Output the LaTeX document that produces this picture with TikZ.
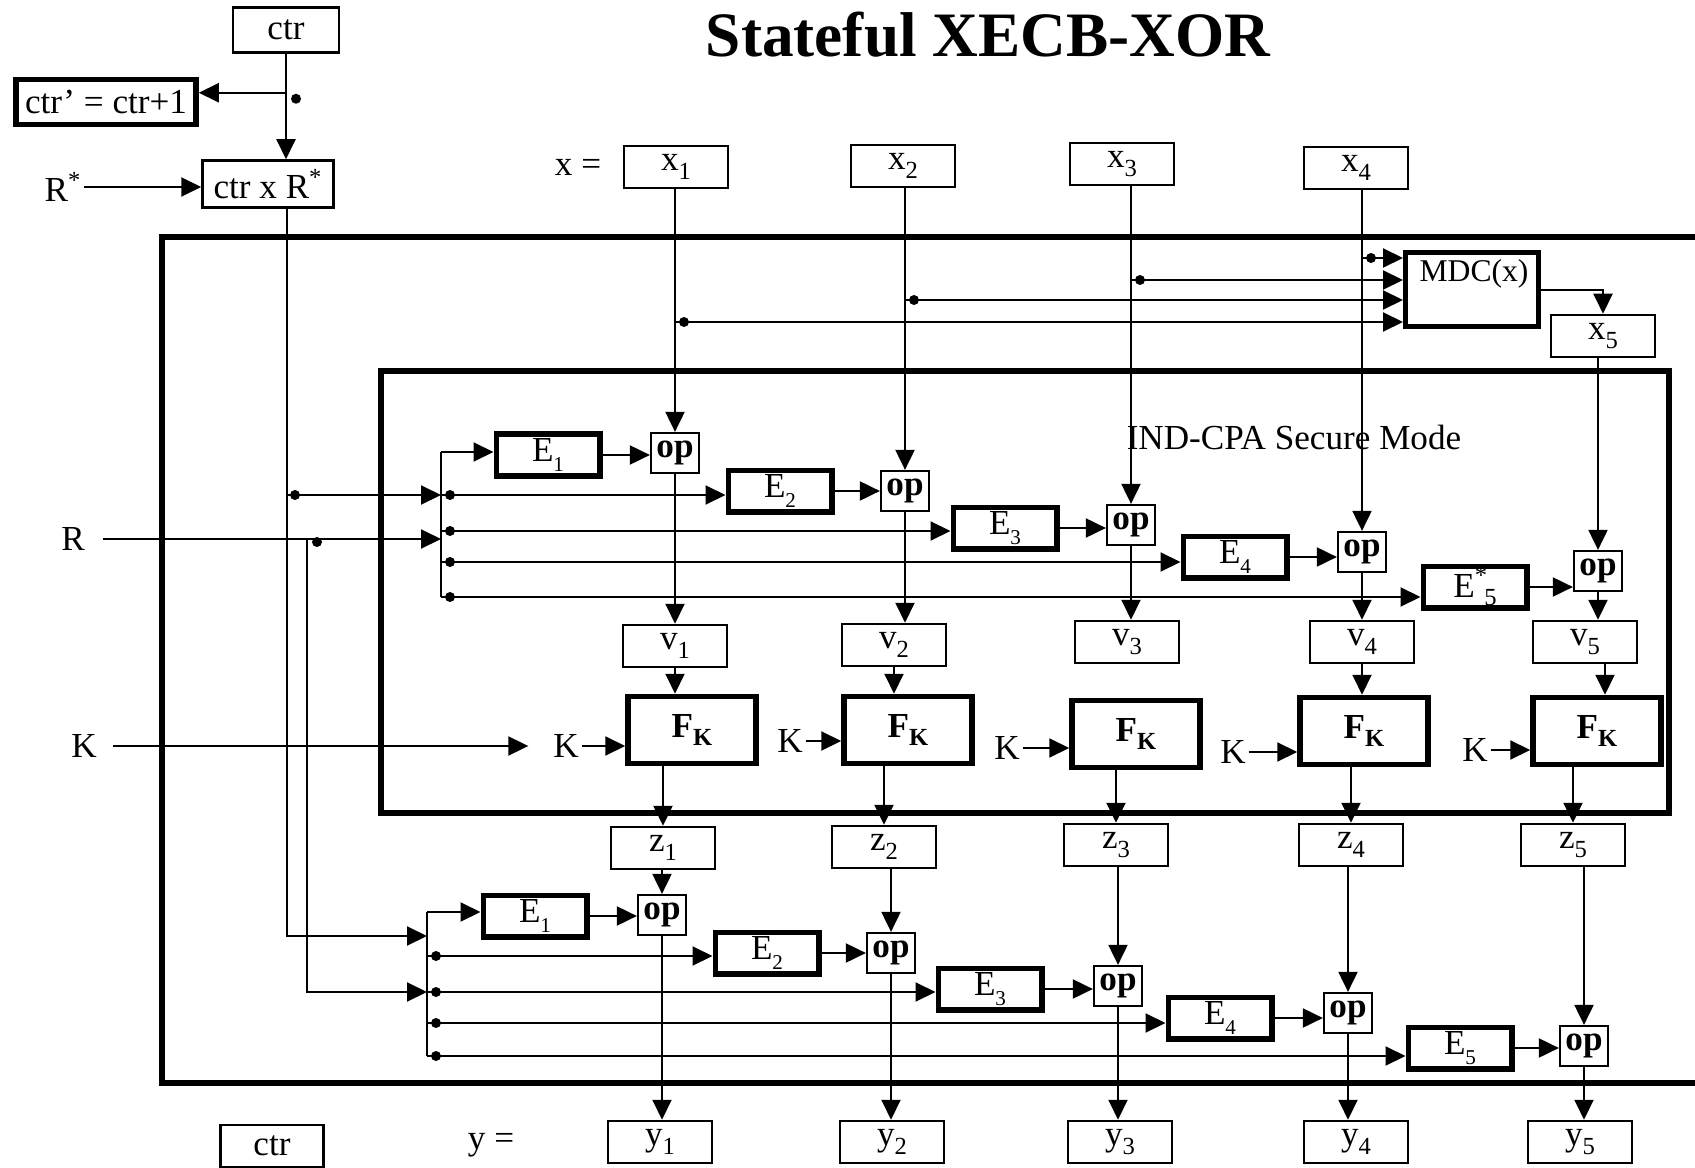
\documentclass[tikz,border=0pt]{standalone}
\usepackage{fontspec}
\setmainfont{Liberation Serif}
\usetikzlibrary{arrows.meta}
\newcommand{\lsub}[1]{\raisebox{-5pt}{\fontsize{14}{14}\selectfont #1}}
\newcommand{\esub}[1]{\raisebox{-6pt}{\fontsize{12}{12}\selectfont #1}}

\begin{document}
\begin{tikzpicture}[
    x=0.2mm, y=-0.2mm,
    every node/.style={font=\fontsize{20}{24}\selectfont},
    lbl/.style={inner sep=1.5pt},
    box/.style={draw, line width=0.5mm, minimum width=20.8mm, minimum height=8.4mm, inner sep=0pt},
    ebox/.style={draw, line width=1.1mm, minimum width=20.7mm, minimum height=8.3mm, inner sep=0pt},
    opbox/.style={draw, line width=0.45mm, minimum width=9.6mm, minimum height=8mm, inner sep=0pt, font=\fontsize{20}{24}\selectfont\bfseries},
    fkbox/.style={draw, line width=1.1mm, minimum width=25.6mm, minimum height=13.4mm, inner sep=0pt, font=\fontsize{20}{24}\selectfont\bfseries},
    thickframe/.style={line width=1.2mm},
    ln/.style={line width=0.4mm},
    arr/.style={-{Triangle[length=4mm, width=3.8mm]}, line width=0.4mm},
]
\useasboundingbox (0,0) rectangle (1695,1168);

% ── Frames ──
\draw[thickframe] (1695,237) -| (162,1083) -- (1695,1083);
\draw[thickframe] (381,371) rectangle (1669,813);

% ── Counter ──
\node[box, minimum width=21.2mm, minimum height=9mm] (ctr) at (286, 30) {ctr};
\node[ebox, minimum width=36mm, minimum height=9mm] (ctrp) at (106, 102) {ctr' = ctr+1};
\node[box, minimum width=26.2mm, minimum height=9.4mm] (ctrR) at (268, 184) {ctr x R\textsuperscript{*}};
\node[lbl] (Rs) at (63, 187) {R\textsuperscript{*}};
\node[font=\fontsize{36}{40}\selectfont\bfseries] (title) at (988, 35) {Stateful XECB-XOR};

\draw[arr] (ctr.south) -- (ctr.south |- ctrR.north);
\path (ctr.south) ++(0, 39) coordinate (cb);
\draw[arr] (cb) -- (cb -| ctrp.east);
\fill (cb) ++(10, 6) circle (1mm);
\draw[arr] (Rs.east) -- (Rs.east -| ctrR.west);

% ── Plaintext blocks ──
\node[lbl] (xeq) at (578, 167) {x =};
\node[box] (x1) at (676, 167) {x\lsub{1}};
\node[box] (x2) at (903, 166) {x\lsub{2}};
\node[box] (x3) at (1122, 164) {x\lsub{3}};
\node[box] (x4) at (1356, 168) {x\lsub{4}};
\node[draw, line width=1mm, minimum width=26.6mm, minimum height=14.8mm] (MDC) at (1472, 290) {};
\node[lbl, font=\fontsize{18}{20}\selectfont] (mdct) at (1474, 274) {MDC(x)};
\node[box] (x5) at (1603, 336) {x\lsub{5}};
\draw[arr] (MDC.east) -| (x5.north);

% ── IND-CPA mode, upper chain ──
\node[lbl] (ind) at (1294, 437) {IND-CPA Secure Mode};
\node[ebox] (E1) at (548, 455) {E\esub{1}};
\node[opbox] (op1) at (675, 453) {op};
\node[ebox] (E2) at (780, 491) {E\esub{2}};
\node[opbox] (op2) at (905, 491) {op};
\node[ebox] (E3) at (1005, 528) {E\esub{3}};
\node[opbox] (op3) at (1131, 525) {op};
\node[ebox] (E4) at (1235, 557) {E\esub{4}};
\node[opbox] (op4) at (1362, 552) {op};
\node[ebox] (E5) at (1475, 587) {E\textsuperscript{*}\kern-0.1em\lsub{5}};
\node[opbox] (op5) at (1598, 571) {op};

\node[box] (v1) at (675, 646) {v\lsub{1}};
\node[box] (v2) at (894, 645) {v\lsub{2}};
\node[box] (v3) at (1127, 642) {v\lsub{3}};
\node[box] (v4) at (1362, 642) {v\lsub{4}};
\node[box] (v5) at (1585, 642) {v\lsub{5}};

\draw[arr] (x1.south -| op1) -- (op1.north);
\draw[arr] (x2.south -| op2) -- (op2.north);
\draw[arr] (x3.south -| op3) -- (op3.north);
\draw[arr] (x4.south -| op4) -- (op4.north);
\draw[arr] (x5.south -| op5) -- (op5.north);

\coordinate (m1) at (675, 322);
\coordinate (m2) at (905, 300);
\coordinate (m3) at (1131, 280);
\coordinate (m4) at (1362, 258);
\draw[arr] (m1) -- (m1 -| MDC.west);
\draw[arr] (m2) -- (m2 -| MDC.west);
\draw[arr] (m3) -- (m3 -| MDC.west);
\draw[arr] (m4) -- (m4 -| MDC.west);
\fill (m1) ++(9, 0) circle (1mm);
\fill (m2) ++(9, 0) circle (1mm);
\fill (m3) ++(9, 0) circle (1mm);
\fill (m4) ++(9, 0) circle (1mm);

\draw[arr] (E1.east) -- (E1.east -| op1.west);
\draw[arr] (E2.east) -- (E2.east -| op2.west);
\draw[arr] (E3.east) -- (E3.east -| op3.west);
\draw[arr] (E4.east) -- (E4.east -| op4.west);
\draw[arr] (E5.east) -- (E5.east -| op5.west);

\draw[arr] (op1.south) -- (op1.south |- v1.north);
\draw[arr] (op2.south) -- (op2.south |- v2.north);
\draw[arr] (op3.south) -- (op3.south |- v3.north);
\draw[arr] (op4.south) -- (op4.south |- v4.north);
\draw[arr] (op5.south) -- (op5.south |- v5.north);

% ── Upper bus ──
\coordinate (ub1) at (441, 452);
\coordinate (ub2) at (441, 495);
\coordinate (ubr) at (441, 539);
\coordinate (ub3) at (441, 531);
\coordinate (ub4) at (441, 562);
\coordinate (ub5) at (441, 597);
\draw[ln] (ub1) -- (ub5);
\draw[arr] (ub1) -- (ub1 -| E1.west);
\draw[arr] (ub2) -- (ub2 -| E2.west);
\draw[arr] (ub3) -- (ub3 -| E3.west);
\draw[arr] (ub4) -- (ub4 -| E4.west);
\draw[arr] (ub5) -- (ub5 -| E5.west);
\fill (ub2) ++(9, 0) circle (1mm);
\fill (ub3) ++(9, 0) circle (1mm);
\fill (ub4) ++(9, 0) circle (1mm);
\fill (ub5) ++(9, 0) circle (1mm);

% ── Keyed F ──
\node[lbl] (K) at (84, 746) {K};
\node[lbl] (k1) at (566, 746) {K};
\node[lbl] (k2) at (790, 741) {K};
\node[lbl] (k3) at (1007, 748) {K};
\node[lbl] (k4) at (1233, 752) {K};
\node[lbl] (k5) at (1475, 750) {K};
\node[fkbox] (F1) at (692, 730) {F\lsub{K}};
\node[fkbox] (F2) at (908, 730) {F\lsub{K}};
\node[fkbox] (F3) at (1136, 734) {F\lsub{K}};
\node[fkbox] (F4) at (1364, 731) {F\lsub{K}};
\node[fkbox] (F5) at (1597, 731) {F\lsub{K}};

\draw[arr, shorten <=2.6mm, shorten >=4.4mm] (K.east) -- (K.east -| k1.west);
\draw[arr] (k1.east) -- (k1.east -| F1.west);
\draw[arr] (k2.east) -- (k2.east -| F2.west);
\draw[arr] (k3.east) -- (k3.east -| F3.west);
\draw[arr] (k4.east) -- (k4.east -| F4.west);
\draw[arr] (k5.east) -- (k5.east -| F5.west);

\draw[arr] (v1.south) -- (v1.south |- F1.north);
\draw[arr] (v2.south) -- (v2.south |- F2.north);
\draw[arr] (v4.south) -- (v4.south |- F4.north);
\draw[arr] ([xshift=4mm]v5.south) -- ([xshift=4mm]v5.south |- F5.north);

% ── z blocks ──
\node[box] (z1) at (663, 848) {z\lsub{1}};
\node[box] (z2) at (884, 847) {z\lsub{2}};
\node[box] (z3) at (1116, 845) {z\lsub{3}};
\node[box] (z4) at (1351, 845) {z\lsub{4}};
\node[box] (z5) at (1573, 845) {z\lsub{5}};

\draw[arr] (F1.south -| z1) -- (z1.north);
\draw[arr] (F2.south -| z2) -- (z2.north);
\draw[arr] (F3.south -| z3) -- (z3.north);
\draw[arr] (F4.south -| z4) -- (z4.north);
\draw[arr] (F5.south -| z5) -- (z5.north);

% ── Lower chain ──
\node[ebox] (E1b) at (535, 916) {E\esub{1}};
\node[opbox] (op1b) at (662, 915) {op};
\node[ebox] (E2b) at (767, 953) {E\esub{2}};
\node[opbox] (op2b) at (891, 953) {op};
\node[ebox] (E3b) at (990, 989) {E\esub{3}};
\node[opbox] (op3b) at (1118, 986) {op};
\node[ebox] (E4b) at (1220, 1018) {E\esub{4}};
\node[opbox] (op4b) at (1348, 1013) {op};
\node[ebox] (E5b) at (1460, 1048) {E\esub{5}};
\node[opbox] (op5b) at (1584, 1046) {op};

\draw[arr] (z1.south -| op1b) -- (op1b.north);
\draw[arr] (z2.south -| op2b) -- (op2b.north);
\draw[arr] (z3.south -| op3b) -- (op3b.north);
\draw[arr] (z4.south -| op4b) -- (op4b.north);
\draw[arr] (z5.south -| op5b) -- (op5b.north);

\draw[arr] (E1b.east) -- (E1b.east -| op1b.west);
\draw[arr] (E2b.east) -- (E2b.east -| op2b.west);
\draw[arr] (E3b.east) -- (E3b.east -| op3b.west);
\draw[arr] (E4b.east) -- (E4b.east -| op4b.west);
\draw[arr] (E5b.east) -- (E5b.east -| op5b.west);

% ── Lower bus ──
\coordinate (lb1) at (427, 912);
\coordinate (lbc) at (427, 936);
\coordinate (lb2) at (427, 956);
\coordinate (lb3) at (427, 992);
\coordinate (lb4) at (427, 1023);
\coordinate (lb5) at (427, 1056);
\draw[ln] (lb1) -- (lb5);
\draw[arr] (lb1) -- (lb1 -| E1b.west);
\draw[arr] (lb2) -- (lb2 -| E2b.west);
\draw[arr] (lb3) -- (lb3 -| E3b.west);
\draw[arr] (lb4) -- (lb4 -| E4b.west);
\draw[arr] (lb5) -- (lb5 -| E5b.west);
\fill (lb2) ++(9, 0) circle (1mm);
\fill (lb3) ++(9, 0) circle (1mm);
\fill (lb4) ++(9, 0) circle (1mm);
\fill (lb5) ++(9, 0) circle (1mm);

% ── Counter and R feeds ──
\coordinate (cv) at ([xshift=3.8mm]ctrR.south);
\draw[arr] (cv) |- (lbc);
\draw[arr] (cv |- ub2) -- (ub2);
\fill (cv |- ub2) ++(8, 0) circle (1mm);

\node[lbl] (R) at (73, 539) {R};
\draw[arr, shorten <=3mm] (R.east) -- (ubr);
\coordinate (rv) at (307, 539);
\draw[arr] (rv) |- (lb3);
\fill (rv) ++(10, 3) circle (1mm);

% ── Outputs ──
\node[box, minimum width=20.6mm] (ctr2) at (272, 1146) {ctr};
\node[lbl] (yeq) at (491, 1145) {y =};
\node[box] (y1) at (660, 1142) {y\lsub{1}};
\node[box] (y2) at (892, 1142) {y\lsub{2}};
\node[box] (y3) at (1120, 1142) {y\lsub{3}};
\node[box] (y4) at (1356, 1142) {y\lsub{4}};
\node[box] (y5) at (1580, 1142) {y\lsub{5}};

\draw[arr] (op1b.south) -- (op1b.south |- y1.north);
\draw[arr] (op2b.south) -- (op2b.south |- y2.north);
\draw[arr] (op3b.south) -- (op3b.south |- y3.north);
\draw[arr] (op4b.south) -- (op4b.south |- y4.north);
\draw[arr] (op5b.south) -- (op5b.south |- y5.north);

\end{tikzpicture}
\end{document}
